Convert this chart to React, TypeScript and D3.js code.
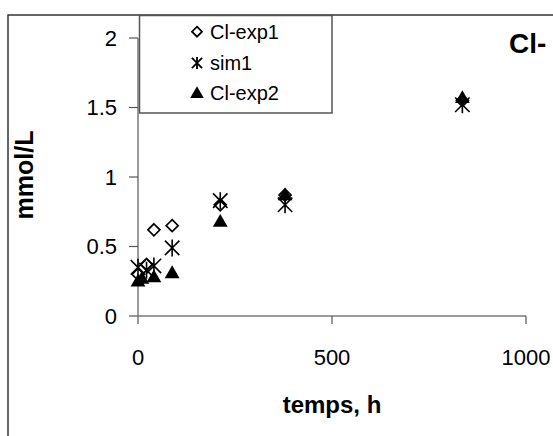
import React from "react";
import * as d3 from "d3";

const exp1Time = [0, 22, 41, 88, 212, 379, 836];
const exp1Val = [0.3, 0.37, 0.62, 0.65, 0.8, 0.87, 1.55];
const sim1Time = [0, 22, 41, 88, 212, 379, 836];
const sim1Val = [0.35, 0.33, 0.36, 0.49, 0.83, 0.8, 1.52];
const exp2Time = [0, 10, 41, 88, 212, 379, 836];
const exp2Val = [0.25, 0.27, 0.28, 0.31, 0.68, 0.87, 1.57];
const xTicks = [0, 500, 1000];
const yTicks = [0, 0.5, 1, 1.5, 2];
const yTickLabels = ["0", "0.5", "1", "1.5", "2"];
const legendLabels = ["Cl-exp1", "sim1", "Cl-exp2"];
const title = "Cl-";
const xTitle = "temps, h";
const yTitle = "mmol/L";

const FONT = "'Liberation Sans', Arial, sans-serif";

function diamondPath(cx: number, cy: number, r: number) {
  return `M${cx},${cy - r}L${cx + r},${cy}L${cx},${cy + r}L${cx - r},${cy}Z`;
}
function starPath(cx: number, cy: number, r: number) {
  const d = r * 0.85;
  return `M${cx - d},${cy - d}L${cx + d},${cy + d}M${cx + d},${cy - d}L${cx - d},${cy + d}M${cx},${cy - r}L${cx},${cy + r}`;
}
const triSym = d3.symbol().type(d3.symbolTriangle).size(95);

export default function App() {
  const W = 553, H = 436;
  const x = d3.scaleLinear().domain([0, 1000]).range([138, 526]);
  const y = d3.scaleLinear().domain([0, 2]).range([316, 38]);
  const axisColor = "#7a7a7a";

  const legendX = 139.5, legendY = 15.5, legendW = 192.5, legendH = 97.5;
  const legendRows = [31.7, 63, 93];

  return (
    <svg width={W} height={H} style={{ position: "absolute", left: 0, top: 0, background: "#fff" }}>
      <rect x={0} y={0} width={W} height={H} fill="#fff" />
      <rect x={8} y={15} width={700} height={600} fill="none" stroke="#333" strokeWidth={1.5} />

      <line x1={x(0)} x2={x(0)} y1={y(2)} y2={y(0)} stroke={axisColor} strokeWidth={1.5} />
      {yTicks.map((t, i) => (
        <g key={"yt" + i}>
          <line x1={x(0) - 9} x2={x(0)} y1={y(t)} y2={y(t)} stroke="#555" strokeWidth={1.2} />
          <text x={117} y={y(t)} dy="0.36em" textAnchor="end" fontFamily={FONT} fontSize={22} fill="#000">
            {yTickLabels[i]}
          </text>
        </g>
      ))}

      <line x1={x(0)} x2={x(1000)} y1={y(0)} y2={y(0)} stroke={axisColor} strokeWidth={1.5} />
      {xTicks.map((t, i) => (
        <g key={"xt" + i}>
          <line x1={x(t)} x2={x(t)} y1={y(0)} y2={y(0) + 8} stroke="#555" strokeWidth={1.2} />
          <text x={x(t)} y={365} textAnchor="middle" fontFamily={FONT} fontSize={22} fill="#000">
            {t}
          </text>
        </g>
      ))}

      <text x={x(500)} y={413} textAnchor="middle" fontFamily={FONT} fontSize={24} fontWeight="bold">
        {xTitle}
      </text>
      <text transform={`translate(33,175) rotate(-90)`} textAnchor="middle" fontFamily={FONT} fontSize={25} fontWeight="bold">
        {yTitle}
      </text>

      <text x={509} y={53} fontFamily={FONT} fontSize={28} fontWeight="bold">
        {title}
      </text>

      <g>
        {exp1Time.map((t, i) => (
          <path key={"e1" + i} d={diamondPath(x(t), y(exp1Val[i]), 6)} fill="#fff" stroke="#000" strokeWidth={1.7} />
        ))}
        {sim1Time.map((t, i) => (
          <path key={"s1" + i} d={starPath(x(t), y(sim1Val[i]), 8.5)} fill="none" stroke="#000" strokeWidth={1.6} />
        ))}
        {exp2Time.map((t, i) => (
          <path
            key={"e2" + i}
            d={triSym() as string}
            transform={`translate(${x(t)},${y(exp2Val[i]) + 1})`}
            fill="#000"
          />
        ))}
      </g>

      <rect x={legendX} y={legendY} width={legendW} height={legendH} fill="#fff" stroke="#555" strokeWidth={1.5} />
      <path d={diamondPath(197, legendRows[0], 5)} fill="#fff" stroke="#000" strokeWidth={1.8} />
      <path d={starPath(197, legendRows[1], 6)} fill="none" stroke="#000" strokeWidth={1.8} />
      <path d={d3.symbol().type(d3.symbolTriangle).size(80)() as string} transform={`translate(197,${legendRows[2] + 1})`} fill="#000" />
      {legendLabels.map((l, i) => (
        <text key={"lg" + i} x={210} y={legendRows[i]} dy="0.36em" fontFamily={FONT} fontSize={20}>
          {l}
        </text>
      ))}
    </svg>
  );
}
